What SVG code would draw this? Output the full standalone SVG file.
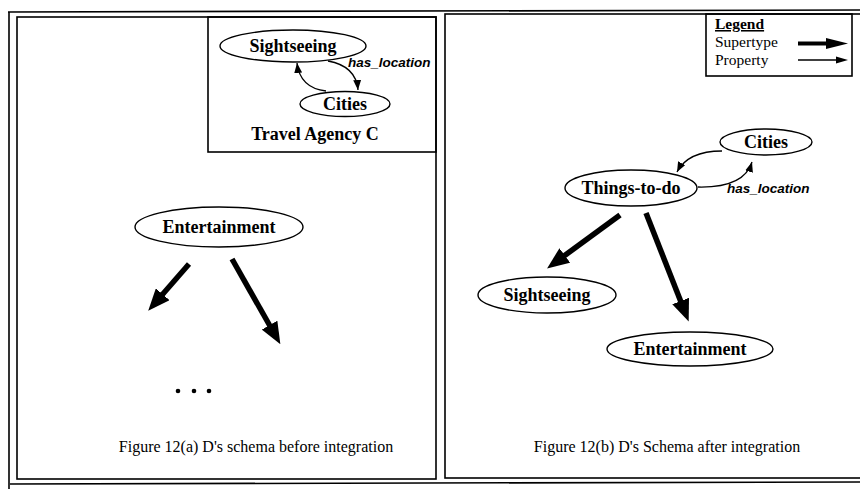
<svg xmlns="http://www.w3.org/2000/svg" width="860" height="489" viewBox="0 0 860 489">
<defs>
<style>
.frame{fill:none;stroke:#000;stroke-width:1.6}
.node ellipse{fill:#fff;stroke:#000;stroke-width:1.4}
.lbl{font-family:"Liberation Serif","Times New Roman",serif;font-weight:bold;font-size:18px;text-anchor:middle;fill:#000}
.rel{font-family:"Liberation Sans",Arial,sans-serif;font-weight:bold;font-style:italic;font-size:13.5px;fill:#000}
.cap{font-family:"Liberation Serif","Times New Roman",serif;font-size:16px;text-anchor:middle;fill:#000}
.leg{font-family:"Liberation Serif","Times New Roman",serif;font-size:15.5px;fill:#000}
.prop{fill:none;stroke:#000;stroke-width:1.3;marker-end:url(#thin)}
.sup{fill:none;stroke:#000;stroke-width:5.5;marker-end:url(#big)}
</style>
<marker id="thin" viewBox="0 0 10 8" refX="10" refY="4" markerWidth="10" markerHeight="8" markerUnits="userSpaceOnUse" orient="auto">
<path d="M0,0 L10,4 L0,8 z" fill="#000"/>
</marker>
<marker id="big" viewBox="0 0 22 18" refX="1" refY="9" markerWidth="22" markerHeight="18" markerUnits="userSpaceOnUse" orient="auto">
<path d="M0,0 L22,9 L0,18 z" fill="#000"/>
</marker>
</defs>
<rect width="860" height="489" fill="#fff"/>

<g id="outer-frame">
<path class="frame" d="M8,12 L860,10 M9,12 L9,489 M10,484 L860,482"/>
</g>

<g id="panel-a">
<rect class="frame" x="17" y="17" width="419" height="462"/>
<text class="cap" x="256" y="452">Figure 12(a) D's schema before integration</text>
</g>

<g id="travel-agency-c">
<rect class="frame" x="208" y="17" width="228" height="135"/>
<text class="lbl" x="315" y="140">Travel Agency C</text>
</g>

<g id="panel-b">
<rect class="frame" x="445" y="14" width="420" height="464"/>
<text class="cap" x="667" y="452">Figure 12(b) D's Schema after integration</text>
</g>

<g id="legend">
<rect class="frame" x="706" y="14" width="146" height="62"/>
<text class="leg" x="715" y="29" font-weight="bold" text-decoration="underline">Legend</text>
<text class="leg" x="715" y="47">Supertype</text>
<text class="leg" x="715" y="65">Property</text>
<line x1="798" y1="43.5" x2="828" y2="43.5" stroke="#000" stroke-width="4"/>
<path d="M826,38 L848,43.5 L826,49 z" fill="#000"/>
<line x1="798" y1="60" x2="840" y2="60" stroke="#000" stroke-width="1.3"/>
<path d="M836,56.5 L848,60 L836,63.5 z" fill="#000"/>
</g>

<g id="a-sightseeing" class="node">
<ellipse cx="293" cy="46" rx="73" ry="16"/>
<text class="lbl" x="293" y="52">Sightseeing</text>
</g>
<g id="a-cities" class="node">
<ellipse cx="345" cy="104" rx="45" ry="12.5"/>
<text class="lbl" x="345" y="110">Cities</text>
</g>
<g id="a-entertainment" class="node">
<ellipse cx="219" cy="227" rx="84" ry="20"/>
<text class="lbl" x="219" y="233">Entertainment</text>
</g>

<g id="b-cities" class="node">
<ellipse cx="766" cy="142" rx="46" ry="13"/>
<text class="lbl" x="766" y="148">Cities</text>
</g>
<g id="b-things-to-do" class="node">
<ellipse cx="631" cy="188" rx="66" ry="18"/>
<text class="lbl" x="631" y="194">Things-to-do</text>
</g>
<g id="b-sightseeing" class="node">
<ellipse cx="547" cy="295" rx="69" ry="18"/>
<text class="lbl" x="547" y="301">Sightseeing</text>
</g>
<g id="b-entertainment" class="node">
<ellipse cx="690" cy="349" rx="83" ry="17"/>
<text class="lbl" x="690" y="355">Entertainment</text>
</g>

<g id="ellipsis">
<circle cx="178" cy="391" r="2.3"/>
<circle cx="194" cy="391" r="2.3"/>
<circle cx="209" cy="391" r="2.3"/>
</g>

<g id="connectors">
<path class="prop" d="M328,61 Q356,66 358,90"/>
<path class="prop" d="M326,91 Q300,88 297,63"/>
<text class="rel" x="348" y="67">has_location</text>
<path class="prop" d="M722,151 Q688,151 677,172"/>
<path class="prop" d="M698,187 Q744,188 752,162"/>
<text class="rel" x="727" y="193">has_location</text>
<path class="sup" d="M189,264 L162,295"/>
<path class="sup" d="M232,259 L270,326"/>
<path class="sup" d="M620,215 L564,256"/>
<path class="sup" d="M646,213 L681,302"/>
</g>
</svg>
